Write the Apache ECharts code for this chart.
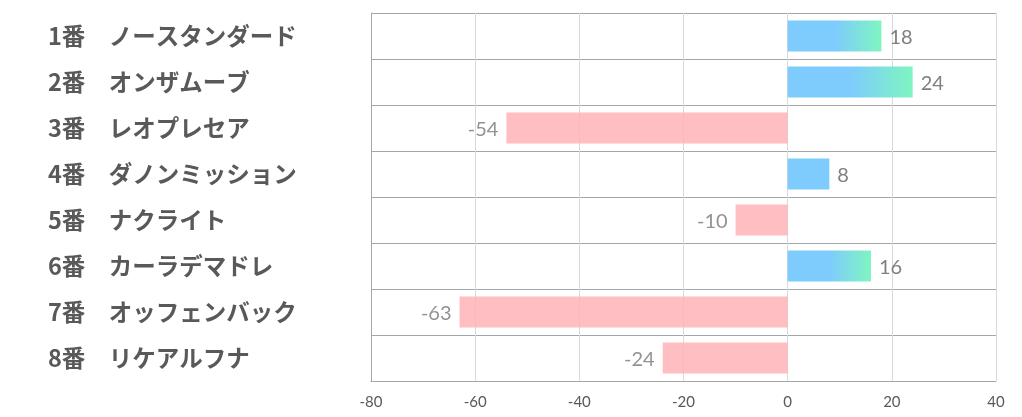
<!DOCTYPE html>
<html>
<head>
<meta charset="utf-8">
<script src="https://cdn.jsdelivr.net/npm/echarts@6/dist/echarts.min.js"></script>
<style>
html,body{margin:0;padding:0;background:#fff;}
#chart{width:1022px;height:417px;}
</style>
</head>
<body>
<div id="chart"></div>
<script>
const numbers = ['1番','2番','3番','4番','5番','6番','7番','8番'];
const names = ['ノースタンダード','オンザムーブ','レオプレセア','ダノンミッション','ナクライト','カーラデマドレ','オッフェンバック','リケアルフナ'];
const values = [18, 24, -54, 8, -10, 16, -63, -24];
const xTicks = [-80, -60, -40, -20, 0, 20, 40];

const categories = numbers.map((n, i) => n + '\u3000' + names[i]);

const blueGrad = {
  type: 'linear', x: 0, y: 0, x2: 1, y2: 0,
  colorStops: [
    {offset: 0, color: '#7ecbfe'},
    {offset: 0.5, color: '#7ecbfe'},
    {offset: 1, color: '#7ff5c0'}
  ]
};

const seriesData = values.map(v => {
  if (v >= 0) {
    return {
      value: v,
      itemStyle: {color: v > 10 ? blueGrad : '#7ecbfe'},
      label: {position: 'right'}
    };
  }
  return {
    value: v,
    itemStyle: {color: '#ffb3b6', opacity: 0.85},
    label: {position: 'left'}
  };
});

const chart = echarts.init(document.getElementById('chart'));
chart.setOption({
  animation: false,
  backgroundColor: '#ffffff',
  grid: {left: 371, right: 26, top: 13, bottom: 36, containLabel: false},
  xAxis: {
    type: 'value',
    min: xTicks[0],
    max: xTicks[xTicks.length - 1],
    interval: 20,
    axisLine: {show: true, lineStyle: {color: '#a6a6a6', width: 1}},
    axisTick: {show: false},
    axisLabel: {color: '#595959', fontSize: 15, fontFamily: 'Lato', margin: 14},
    splitLine: {show: true, lineStyle: {color: '#d9d9d9', width: 1}}
  },
  yAxis: {
    type: 'category',
    data: categories,
    inverse: true,
    axisLine: {show: true, onZero: false, lineStyle: {color: '#a6a6a6', width: 1}},
    axisTick: {show: false},
    splitLine: {show: true, lineStyle: {color: '#a6a6a6', width: 1}},
    axisLabel: {
      align: 'left',
      margin: 323,
      color: '#595959',
      fontSize: 23.5,
      fontWeight: 'bold',
      fontFamily: 'Noto Sans CJK JP'
    }
  },
  series: [{
    type: 'bar',
    data: seriesData,
    barCategoryGap: '33%',
    label: {
      show: true,
      distance: 8,
      offset: [0, 2],
      color: '#7f7f7f',
      fontSize: 20,
      fontFamily: 'Lato'
    }
  }]
});
</script>
</body>
</html>
